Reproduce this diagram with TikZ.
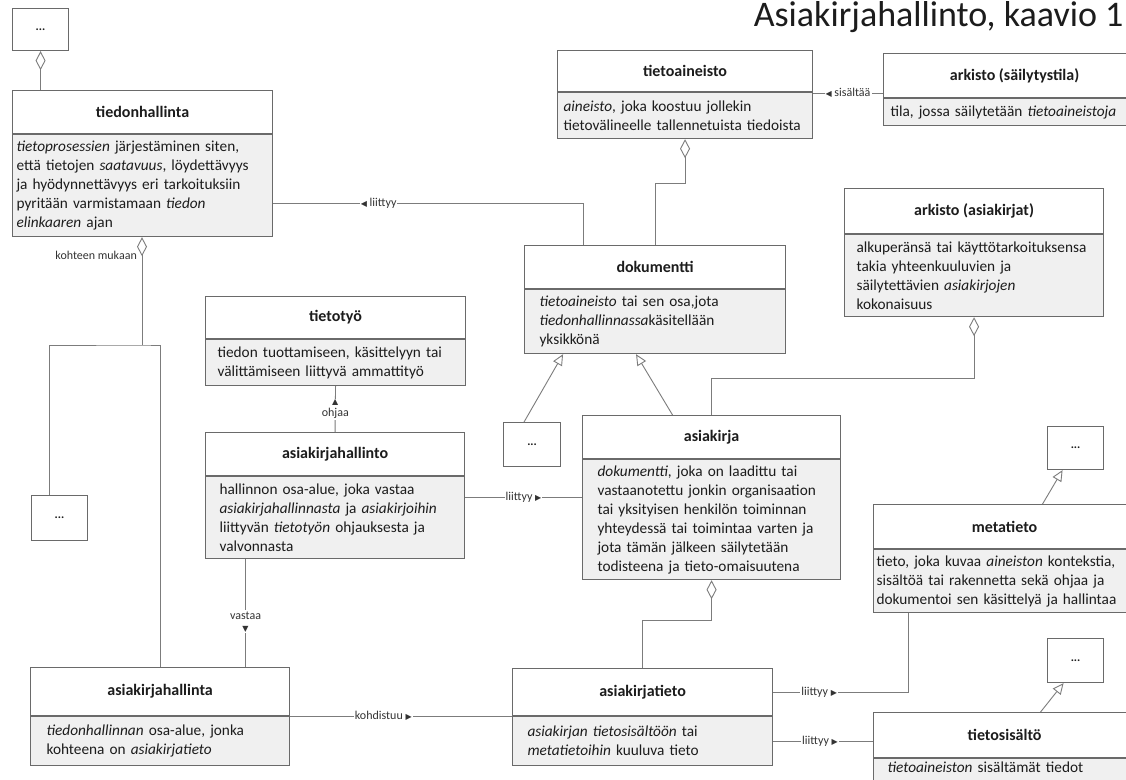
\documentclass[tikz,border=0pt]{standalone}
\usepackage{fontspec}
\setmainfont{Carlito}
\newfontfamily\symfont{DejaVu Sans}
\usepackage{tikz}
\usetikzlibrary{arrows.meta,positioning}
\definecolor{boxline}{HTML}{6A6A6A}
\definecolor{boxfill}{HTML}{F0F0F0}
\definecolor{wireclr}{HTML}{7C7C7C}
\definecolor{inkclr}{HTML}{1C1C1C}
\newcommand{\trileft}{{\symfont\fontsize{8}{8}\selectfont ◀}}
\newcommand{\triright}{{\symfont\fontsize{8}{8}\selectfont ▶}}
\newcommand{\triup}{{\symfont\fontsize{8}{8}\selectfont ▲}}
\newcommand{\tridown}{{\symfont\fontsize{8}{8}\selectfont ▼}}

\begin{document}
\begin{tikzpicture}[x=1pt,y=-1pt,text=inkclr,
    hdr/.style={draw=boxline,line width=1.1pt,fill=white,anchor=north west,inner sep=0pt,
                font=\fontsize{16}{19}\selectfont\bfseries},
    desc/.style={draw=boxline,line width=1.1pt,fill=boxfill,anchor=north west,align=left,
                 inner ysep=0pt,font=\fontsize{15.3}{19}\selectfont},
    dots/.style={draw=boxline,line width=1.1pt,fill=white,anchor=north west,inner sep=0pt,
                 font=\fontsize{12}{12}\selectfont\bfseries},
    lbl/.style={fill=white,inner sep=1pt,text=black!80,font=\fontsize{12}{13}\selectfont},
    wire/.style={draw=wireclr,line width=0.9pt},
    aggr/.style={{Diamond[open,length=19pt,width=10pt]}-},
    gen/.style={-{Triangle[open,length=11pt,width=10pt]}}]

  \path[use as bounding box,fill=white] (0,0) rectangle (1126,779);

  \node[anchor=base east,font=\fontsize{36}{42}\selectfont] (title) at (1127,27) {Asiakirjahallinto, kaavio 1};

  % classes
  \node[hdr,minimum width=260pt,minimum height=43pt] (th) at (12,90) {tiedonhallinta};
  \node[desc,text width=252pt,inner xsep=4pt,minimum height=102pt] (thd) at (th.south west)
    {\textit{tietoprosessien} järjestäminen siten,\\ että tietojen \textit{saatavuus}, löydettävyys\\
     ja hyödynnettävyys eri tarkoituksiin\\ pyritään varmistamaan \textit{tiedon}\\ \textit{elinkaaren} ajan};

  \node[hdr,minimum width=255pt,minimum height=41pt] (ta) at (557,50) {tietoaineisto};
  \node[desc,text width=243pt,inner xsep=6pt,minimum height=46pt] (tad) at (ta.south west)
    {\textit{aineisto}, joka koostuu jollekin\\ tietovälineelle tallennetuista tiedoista};

  \node[hdr,minimum width=262pt,minimum height=44pt] (as) at (883,53) {arkisto (säilytystila)};
  \node[desc,text width=248pt,inner xsep=7pt,minimum height=27pt] (asd) at (as.south west)
    {tila, jossa säilytetään \textit{tietoaineistoja}};

  \node[hdr,minimum width=261pt,minimum height=43pt] (dok) at (524,245) {dokumentti};
  \node[desc,text width=231pt,inner xsep=15pt,minimum height=64pt] (dokd) at (dok.south west)
    {\textit{tietoaineisto} tai sen osa,jota\\ \textit{tiedonhallinnassa}käsitellään\\ yksikkönä};

  \node[hdr,minimum width=259pt,minimum height=45pt] (aa) at (844,188) {arkisto (asiakirjat)};
  \node[desc,text width=235pt,inner xsep=12pt,minimum height=82pt] (aad) at (aa.south west)
    {alkuperänsä tai käyttötarkoituksensa\\ takia yhteenkuuluvien ja\\
     säilytettävien \textit{asiakirjojen}\\ kokonaisuus};

  \node[hdr,minimum width=260pt,minimum height=42pt] (tt) at (205,296) {tietotyö};
  \node[desc,text width=236pt,inner xsep=12pt,minimum height=46pt] (ttd) at (tt.south west)
    {tiedon tuottamiseen, käsittelyyn tai\\ välittämiseen liittyvä ammattityö};

  \node[hdr,minimum width=259pt,minimum height=43pt] (akt) at (205,432) {asiakirjahallinto};
  \node[desc,text width=231pt,inner xsep=14pt,minimum height=82pt] (aktd) at (akt.south west)
    {hallinnon osa-alue, joka vastaa\\ \textit{asiakirjahallinnasta} ja \textit{asiakirjoihin}\\
     liittyvän \textit{tietotyön} ohjauksesta ja\\ valvonnasta};

  \node[hdr,minimum width=258pt,minimum height=43pt] (ak) at (582,415) {asiakirja};
  \node[desc,text width=228pt,inner xsep=15pt,minimum height=120pt] (akd) at (ak.south west)
    {\textit{dokumentti}, joka on laadittu tai\\ vastaanotettu jonkin organisaation\\
     tai yksityisen henkilön toiminnan\\ yhteydessä tai toimintaa varten ja\\
     jota tämän jälkeen säilytetään\\ todisteena ja tieto-omaisuutena};

  \node[hdr,minimum width=262pt,minimum height=44pt] (mt) at (873,504) {metatieto};
  \node[desc,text width=256pt,inner xsep=3pt,minimum height=63pt] (mtd) at (mt.south west)
    {tieto, joka kuvaa \textit{aineiston} kontekstia,\\ sisältöä tai rakennetta sekä ohjaa ja\\
     dokumentoi sen käsittelyä ja hallintaa};

  \node[hdr,minimum width=259pt,minimum height=48pt] (akh) at (30,667) {asiakirjahallinta};
  \node[desc,text width=227pt,inner xsep=16pt,minimum height=49pt] (akhd) at (akh.south west)
    {\textit{tiedonhallinnan} osa-alue, jonka\\ kohteena on \textit{asiakirjatieto}};

  \node[hdr,minimum width=260pt,minimum height=47pt] (at) at (512,668) {asiakirjatieto};
  \node[desc,text width=230pt,inner xsep=15pt,minimum height=49pt] (atd) at (at.south west)
    {\textit{asiakirjan tietosisältöön} tai\\ \textit{metatietoihin} kuuluva tieto};

  \node[hdr,minimum width=262pt,minimum height=45pt] (ts) at (873,712) {tietosisältö};
  \node[desc,text width=234pt,inner xsep=14pt,text height=14pt,text depth=31pt] (tsd) at (ts.south west)
    {\textit{tietoaineiston} sisältämät tiedot};

  % open ends
  \node[dots,minimum width=56pt,minimum height=42pt] (dA) at (12,8) {...};
  \node[dots,minimum width=56pt,minimum height=45pt] (dB) at (31,495) {...};
  \node[dots,minimum width=57pt,minimum height=44pt] (dC) at (503,422) {...};
  \node[dots,minimum width=56pt,minimum height=43pt] (dD) at (1047,426) {...};
  \node[dots,minimum width=56pt,minimum height=44pt] (dE) at (1047,638) {...};

  % aggregations
  \draw[wire,aggr] (dA.south) -- (dA.south |- th.north);
  \coordinate (kj) at (142,345);
  \draw[wire,aggr] (thd.south -| kj) -- (kj);
  \draw[wire] ([xshift=18pt]dB.north west) |- (kj) -| (akh.north);
  \node[lbl,fill=none,anchor=east] (kjl) at ([xshift=-4pt,yshift=-18pt]thd.south -| kj) {kohteen mukaan};
  \draw[wire,aggr] (tad.south) |- ([yshift=62pt]dok.north) -- (dok.north);
  \draw[wire,aggr] (aad.south) |- ([yshift=37pt]ak.north) -- (ak.north);
  \draw[wire,aggr] (akd.south) |- ([yshift=48pt]at.north) -- (at.north);

  % generalizations
  \draw[wire,gen] ([xshift=-8pt]dC.north) -- ([xshift=-92pt]dokd.south);
  \draw[wire,gen] ([xshift=-39pt]ak.north) -- ([xshift=-19pt]dokd.south);
  \draw[wire,gen] ([xshift=38pt]mt.north) -- ([xshift=-13pt]dD.south);
  \draw[wire,gen] ([xshift=36pt]ts.north) -- ([xshift=-12pt]dE.south);

  % associations
  \draw[wire] ([yshift=-18pt]thd.east) -| ([xshift=-71.5pt]dok.north)
    node[lbl,pos=0.17] {\trileft\ liittyy};
  \draw[wire] ([yshift=5pt]as.south west) -- ([yshift=5pt]as.south west -| tad.east)
    node[lbl,midway] {\trileft\ sisältää};
  \draw[wire] (akt.north) -- (ttd.south)
    node[lbl,midway,align=center,font=\fontsize{12}{12}\selectfont] {\triup\\ ohjaa};
  \draw[wire] ([yshift=20pt]aktd.east) -- ([yshift=20pt]aktd.east -| ak.west)
    node[lbl,midway] {liittyy \triright};
  \draw[wire] ([xshift=-89.5pt]aktd.south) -- ([xshift=-89.5pt]aktd.south |- akh.north)
    node[lbl,pos=0.58,align=center,font=\fontsize{12}{12}\selectfont] {vastaa\\ \tridown};
  \draw[wire] (akh.south east) -- (akh.south east -| at.west)
    node[lbl,pos=0.42] {kohdistuu \triright};
  \draw[wire] (at.east) -| ([xshift=-96pt]mtd.south)
    node[lbl,pos=0.17] {liittyy \triright};
  \draw[wire] (atd.east) -- (atd.east -| ts.west)
    node[lbl,pos=0.47] {liittyy \triright};
\end{tikzpicture}
\end{document}
